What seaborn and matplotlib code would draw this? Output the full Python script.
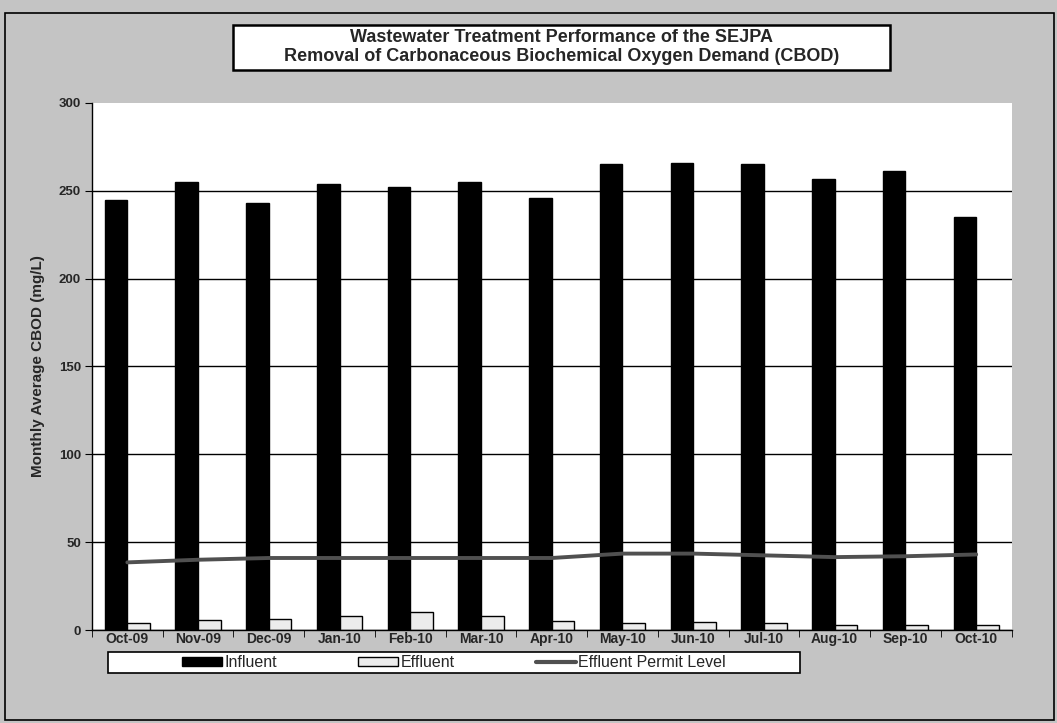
import numpy as np
import pandas as pd
import seaborn as sns
import matplotlib
matplotlib.use('Agg')
from matplotlib import pyplot as plt
from matplotlib.patches import Rectangle, Patch
from matplotlib.lines import Line2D

# monthly average CBOD values (mg/L)
months = ['Oct-09', 'Nov-09', 'Dec-09', 'Jan-10', 'Feb-10', 'Mar-10', 'Apr-10',
          'May-10', 'Jun-10', 'Jul-10', 'Aug-10', 'Sep-10', 'Oct-10']
influent = [245, 255, 243, 254, 252, 255, 246, 265, 266, 265, 257, 261, 235]
effluent = [4, 5.5, 6.5, 8, 10, 8, 5, 4, 4.5, 4, 3, 3, 3]
permit = [38.5, 40, 41, 41, 41, 41, 41, 43.5, 43.5, 42.5, 41.5, 42, 43]
y_ticks = [0, 50, 100, 150, 200, 250, 300]

sns.set_style('ticks')
plt.rcParams['font.family'] = ['Liberation Sans', 'DejaVu Sans']

cbod_df = pd.DataFrame({
    'Month': months * 2,
    'CBOD': influent + effluent,
    'Sample': ['Influent'] * len(months) + ['Effluent'] * len(months),
})

fig = plt.figure(figsize=(10.57, 7.23), dpi=100)
fig.patch.set_facecolor('#c4c4c4')

# outer frame of the chart
fig.patches.append(Rectangle((0.005, 0.004), 0.992, 0.978, transform=fig.transFigure,
                             fill=False, edgecolor='black', lw=1.2))

ax = fig.add_axes([0.087, 0.1286, 0.870, 0.729])
ax.set_facecolor('white')
sns.barplot(data=cbod_df, x='Month', y='CBOD', hue='Sample',
            palette={'Influent': 'black', 'Effluent': '#ececec'},
            width=0.64, edgecolor='black', linewidth=1, legend=False, ax=ax)
ax.plot(np.arange(len(months)), permit, color='#505050', lw=2.8, zorder=5)

ax.set_ylim(0, 300)
ax.set_xlim(-0.5, len(months) - 0.5)
ax.set_yticks(y_ticks)
ax.yaxis.grid(True, color='black', lw=1)
ax.set_axisbelow(True)
ax.get_ygridlines()[-1].set_visible(False)

for s in ['top', 'right']:
    ax.spines[s].set_visible(False)
for s in ['left', 'bottom']:
    ax.spines[s].set_color('black')
    ax.spines[s].set_linewidth(1)

ax.set_xticks(np.arange(-0.5, len(months)), minor=True)
ax.tick_params(axis='x', which='major', length=0, pad=1.5, labelsize=10)
ax.tick_params(axis='x', which='minor', length=5, color='black', direction='out')
ax.tick_params(axis='y', length=5, color='black', direction='out', labelsize=9.5, pad=3)
for lbl in ax.get_xticklabels() + ax.get_yticklabels():
    lbl.set_fontweight('bold')

ax.set_xlabel('')
ax.set_ylabel('Monthly Average CBOD (mg/L)', fontsize=11, fontweight='bold', labelpad=10)

# title box
fig.patches.append(Rectangle((0.2204, 0.903), 0.6216, 0.0622, transform=fig.transFigure,
                             facecolor='white', edgecolor='black', lw=1.8))
fig.text(0.531, 0.935, 'Wastewater Treatment Performance of the SEJPA\n'
         'Removal of Carbonaceous Biochemical Oxygen Demand (CBOD)',
         ha='center', va='center', fontsize=13, fontweight='bold', linespacing=1.1)

# legend box
fig.patches.append(Rectangle((0.1022, 0.0692), 0.6547, 0.029, transform=fig.transFigure,
                             facecolor='white', edgecolor='black', lw=1.2))
handles = [Patch(facecolor='black', edgecolor='black'),
           Patch(facecolor='#ececec', edgecolor='black'),
           Line2D([0], [0], color='#505050', lw=3)]
fig.legend(handles, ['Influent', 'Effluent', 'Effluent Permit Level'],
           loc='center', bbox_to_anchor=(0.4295, 0.0837), ncol=3, frameon=False,
           fontsize=11.5, handlelength=2.5, handleheight=0.5, handletextpad=0.15,
           columnspacing=5.1)

fig.savefig('out.png', dpi=100, facecolor=fig.get_facecolor())
